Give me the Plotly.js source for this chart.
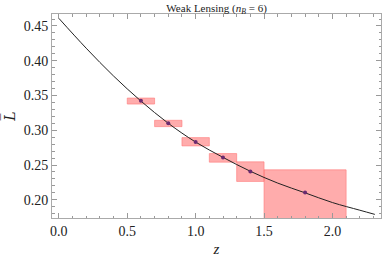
<!DOCTYPE html>
<html><head><meta charset="utf-8">
<script src="https://cdn.plot.ly/plotly-3.0.1.min.js"></script>
<style>body{margin:0;background:#fff}#c{width:382px;height:257px}</style>
</head><body><div id="c"></div>
<script>
// binned data
const zCenter = [0.6, 0.8, 1.0, 1.2, 1.4, 1.8];
const zLow    = [0.5, 0.7, 0.9, 1.1, 1.3, 1.5];
const zHigh   = [0.7, 0.9, 1.1, 1.3, 1.5, 2.1];
const tValue  = [0.3424, 0.3100, 0.2832, 0.2607, 0.2407, 0.2104];
const tLow    = [0.3377, 0.3052, 0.2775, 0.2541, 0.2264, 0.170];
const tHigh   = [0.3463, 0.3143, 0.2894, 0.2665, 0.2546, 0.2431];
// model curve
const curveZ = [0.0, 0.2, 0.4, 0.6, 0.8, 1.0, 1.2, 1.4, 1.6, 1.8, 2.0, 2.2, 2.31];
const curveT = [0.461, 0.418, 0.378, 0.342, 0.310, 0.283, 0.261, 0.241, 0.224, 0.210, 0.196, 0.185, 0.179];

const traces = [];
for (let i = 0; i < zCenter.length; i++) {
  traces.push({
    x: [zLow[i], zHigh[i], zHigh[i], zLow[i], zLow[i]],
    y: [tLow[i], tLow[i], tHigh[i], tHigh[i], tLow[i]],
    mode: 'lines', fill: 'toself',
    fillcolor: 'rgba(255,90,90,0.5)',
    line: {color: 'rgba(255,120,120,0.6)', width: 1},
    hoverinfo: 'skip', showlegend: false
  });
}
traces.push({x: curveZ, y: curveT, mode: 'lines', line: {color: '#222', width: 1, shape: 'spline'}, showlegend: false});
traces.push({x: zCenter, y: tValue, mode: 'markers', marker: {color: '#6a2a70', size: 4}, showlegend: false});

const axBase = {
  showgrid: false, zeroline: false, showline: true, linecolor: '#aaa', linewidth: 1,
  mirror: 'ticks', ticks: 'inside', ticklen: 5, tickcolor: '#999',
  tickfont: {family: 'Liberation Serif', size: 14, color: '#222'}
};
const layout = {
  width: 382, height: 257,
  margin: {l: 52, r: 1, t: 14, b: 39},
  paper_bgcolor: '#fff', plot_bgcolor: '#fff',
  title: {text: 'Weak Lensing (<i>n</i><sub><i>B</i></sub> = 6)', font: {family: 'Liberation Serif', size: 11, color: '#222'}, x: 0.567, xanchor: 'center', y: 0.985, yanchor: 'top'},
  xaxis: Object.assign({}, axBase, {
    range: [-0.05, 2.355], tickmode: 'linear', tick0: 0, dtick: 0.5, tickformat: '.1f',
    minor: {dtick: 0.1, ticks: 'inside', ticklen: 2.5, tickcolor: '#999'},
    title: {text: '<i>z</i>', font: {family: 'Liberation Serif', size: 15, color: '#222'}, standoff: 8}
  }),
  yaxis: Object.assign({}, axBase, {
    range: [0.1738, 0.4672], tickmode: 'linear', tick0: 0, dtick: 0.05, tickformat: '.2f',
    minor: {dtick: 0.01, ticks: 'inside', ticklen: 2.5, tickcolor: '#999'},
    title: {text: '<i>L\u0305</i>', font: {family: 'DejaVu Serif', size: 14, color: '#222'}, standoff: 10}
  })
};
Plotly.newPlot('c', traces, layout, {staticPlot: true, displayModeBar: false});
</script></body></html>
